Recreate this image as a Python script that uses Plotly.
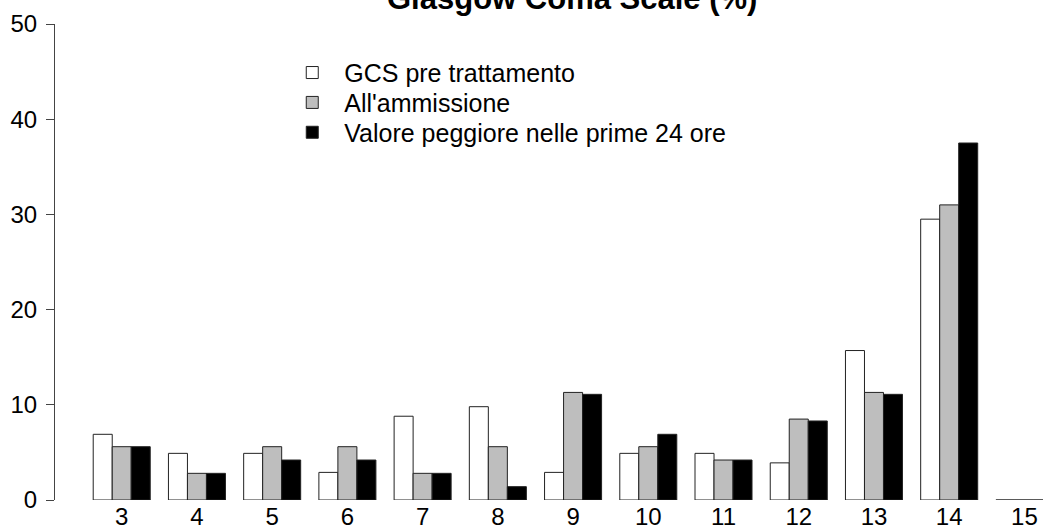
import plotly.graph_objects as go

categories = [3, 4, 5, 6, 7, 8, 9, 10, 11, 12, 13, 14, 15]
gcs_pre = [6.9, 4.9, 4.9, 2.9, 8.8, 9.8, 2.9, 4.9, 4.9, 3.9, 15.7, 29.5, 0]
ammissione = [5.6, 2.8, 5.6, 5.6, 2.8, 5.6, 11.3, 5.6, 4.2, 8.5, 11.3, 31.0, 0]
peggiore = [5.6, 2.8, 4.2, 4.2, 2.8, 1.4, 11.1, 6.9, 4.2, 8.3, 11.1, 37.5, 0]
series_names = ["GCS pre trattamento", "All'ammissione", "Valore peggiore nelle prime 24 ore"]
series_colors = ["#FFFFFF", "#BEBEBE", "#000000"]
y_ticks = [0, 10, 20, 30, 40, 50]
title_text = "Glasgow Coma Scale (%)"

FONT = "Liberation Sans, Arial, sans-serif"

legend_ids = ["legend", "legend2", "legend3"]
legend_y = [0.8975, 0.8347, 0.7720]

fig = go.Figure()
for name, vals, col, lid in zip(series_names, [gcs_pre, ammissione, peggiore], series_colors, legend_ids):
    fig.add_trace(go.Bar(
        x=categories, y=vals, name=name, legend=lid,
        marker=dict(color=col, line=dict(color="#222222", width=1)),
    ))

legend_layouts = {}
for lid, ly in zip(legend_ids, legend_y):
    legend_layouts[lid] = dict(
        x=0.228, y=ly, xanchor="left", yanchor="middle",
        bgcolor="rgba(0,0,0,0)", itemwidth=54,
        font=dict(size=25, family=FONT),
    )

fig.update_layout(
    width=1043, height=530,
    margin=dict(l=55, r=0, t=24, b=28),
    paper_bgcolor="white", plot_bgcolor="white",
    barmode="group", bargap=0.242, bargroupgap=0,
    font=dict(family=FONT, size=24, color="black"),
    showlegend=True,
    xaxis=dict(
        range=[2.113, 15.247], tickmode="array", tickvals=categories,
        ticktext=[str(c) for c in categories],
        showline=False, showgrid=False, zeroline=False, ticks="",
    ),
    yaxis=dict(
        range=[0, 50], tickvals=y_ticks, showgrid=False, zeroline=False,
        showline=True, linecolor="#444444", linewidth=1,
        ticks="outside", ticklen=8, tickcolor="#444444",
        ticklabelstandoff=4,
    ),
    annotations=[dict(
        text="<b>" + title_text + "</b>", xref="paper", yref="paper",
        x=0.5228, y=1.053, xanchor="center", yanchor="middle",
        showarrow=False, font=dict(size=31, family=FONT),
    )],
    **legend_layouts,
)

fig.write_html("out.html", config={"displayModeBar": False},
               post_script="document.body.style.margin='0';")
